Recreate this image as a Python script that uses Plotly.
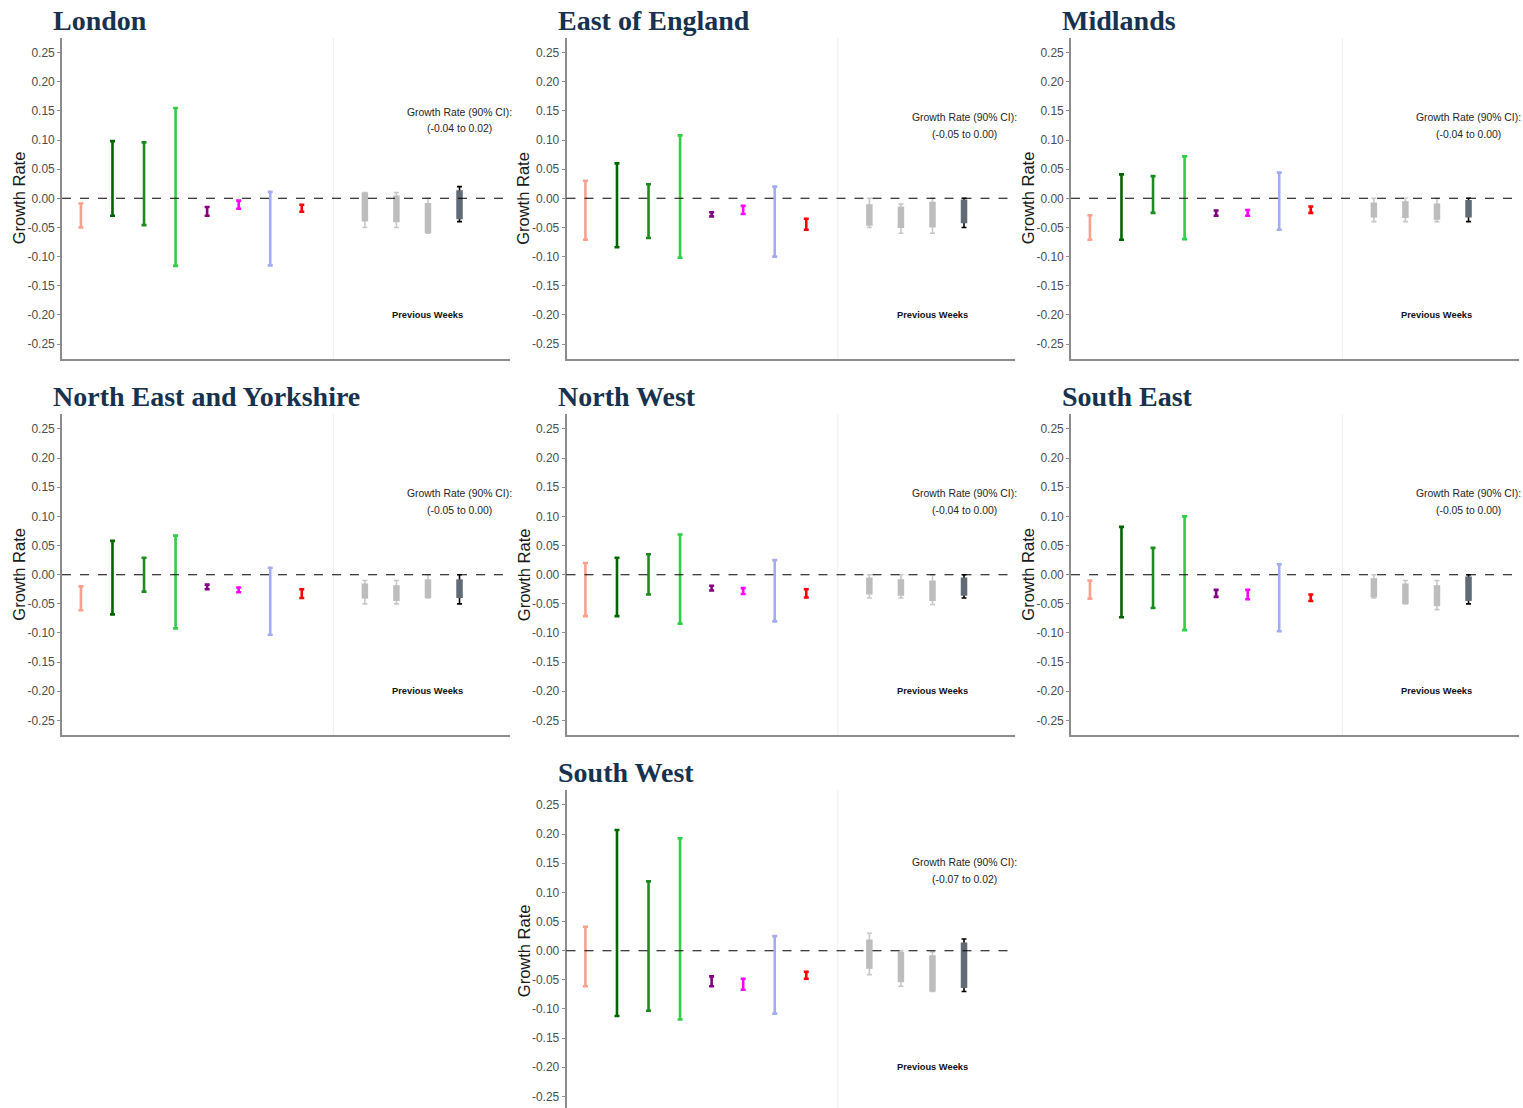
import plotly.graph_objects as go

# ---------------- data ----------------
REGIONS = ["London", "East of England", "Midlands", "North East and Yorkshire",
           "North West", "South East", "South West"]

# 8 model estimates (90% CI lower / upper) per region
MODEL_LO = [
    [-0.050, -0.030, -0.046, -0.116, -0.030, -0.018, -0.115, -0.023],
    [-0.071, -0.084, -0.068, -0.102, -0.031, -0.027, -0.100, -0.054],
    [-0.071, -0.071, -0.025, -0.070, -0.030, -0.030, -0.054, -0.025],
    [-0.061, -0.068, -0.029, -0.092, -0.025, -0.030, -0.103, -0.040],
    [-0.071, -0.071, -0.034, -0.084, -0.027, -0.033, -0.080, -0.039],
    [-0.041, -0.073, -0.057, -0.095, -0.038, -0.042, -0.097, -0.045],
    [-0.061, -0.112, -0.103, -0.118, -0.061, -0.067, -0.108, -0.048],
]
MODEL_HI = [
    [-0.009, 0.098, 0.096, 0.155, -0.015, -0.004, 0.011, -0.011],
    [0.030, 0.060, 0.024, 0.108, -0.024, -0.013, 0.020, -0.035],
    [-0.029, 0.041, 0.038, 0.072, -0.021, -0.020, 0.044, -0.014],
    [-0.020, 0.058, 0.029, 0.067, -0.017, -0.022, 0.012, -0.025],
    [0.020, 0.029, 0.035, 0.069, -0.019, -0.023, 0.025, -0.025],
    [-0.010, 0.082, 0.046, 0.100, -0.026, -0.026, 0.018, -0.034],
    [0.041, 0.207, 0.119, 0.193, -0.044, -0.048, 0.025, -0.036],
]

# previous 4 weeks: whisker (90% CI) and box (inner interval)
WEEK_WHISK_LO = [
    [-0.050, -0.050, -0.060, -0.040],
    [-0.050, -0.060, -0.060, -0.050],
    [-0.040, -0.040, -0.040, -0.040],
    [-0.050, -0.050, -0.040, -0.050],
    [-0.040, -0.040, -0.051, -0.040],
    [-0.040, -0.050, -0.060, -0.050],
    [-0.041, -0.061, -0.070, -0.070],
]
WEEK_BOX_LO = [
    [-0.040, -0.041, -0.060, -0.036],
    [-0.047, -0.051, -0.050, -0.043],
    [-0.033, -0.034, -0.037, -0.033],
    [-0.041, -0.045, -0.040, -0.040],
    [-0.034, -0.036, -0.045, -0.036],
    [-0.039, -0.050, -0.054, -0.045],
    [-0.031, -0.054, -0.070, -0.064],
]
WEEK_BOX_HI = [
    [0.010, 0.005, -0.008, 0.014],
    [-0.010, -0.014, -0.006, -0.002],
    [-0.007, -0.005, -0.009, -0.003],
    [-0.015, -0.018, -0.008, -0.008],
    [-0.005, -0.008, -0.010, -0.005],
    [-0.006, -0.015, -0.018, -0.003],
    [0.019, -0.002, -0.008, 0.014],
]
WEEK_WHISK_HI = [
    [0.010, 0.010, 0.000, 0.020],
    [0.000, -0.010, 0.000, 0.000],
    [0.000, 0.000, 0.000, 0.000],
    [-0.010, -0.010, 0.000, 0.000],
    [0.000, 0.000, 0.000, 0.000],
    [0.000, -0.010, -0.010, 0.000],
    [0.030, 0.000, -0.002, 0.020],
]

CI_LABELS = ["(-0.04 to 0.02)", "(-0.05 to 0.00)", "(-0.04 to 0.00)", "(-0.05 to 0.00)",
             "(-0.04 to 0.00)", "(-0.05 to 0.00)", "(-0.07 to 0.02)"]

MODEL_X = [0, 1, 2, 3, 4, 5, 6, 7]
WEEK_X = [9, 10, 11, 12]
TICK_VALUES = [-0.25, -0.20, -0.15, -0.10, -0.05, 0.00, 0.05, 0.10, 0.15, 0.20, 0.25]
TICK_LABELS = ["-0.25", "-0.20", "-0.15", "-0.10", "-0.05", "0.00", "0.05", "0.10", "0.15", "0.20", "0.25"]

# ---------------- styles / layout ----------------
MODEL_COLORS = ["#F9A08F", "#006400", "#1E8B22", "#32CD44", "#800080", "#FF00FF", "#A2ACF4", "#FF0000"]
WEEK_BOX_COLORS = ["#BDBDBD", "#BDBDBD", "#BDBDBD", "#606B76"]
WEEK_WHISK_COLORS = ["#C8C8C8", "#C8C8C8", "#C8C8C8", "#000000"]
TITLE_COLOR = "#17324F"

W, H = 1523, 1108
PANEL_POS = [(0, 0), (0, 1), (0, 2), (1, 0), (1, 1), (1, 2), (2, 1)]
COL_LEFT = [62, 566.5, 1071]        # px
COL_W = 448
ROW_TOP = [38, 414.4, 790.4]
ROW_H = 320.6
ANNOT_Y = [0.148, 0.139, 0.139, 0.139, 0.139, 0.139, 0.151]
YR = [-0.275, 0.275]
XR = [-0.6, 13.6]

fig = go.Figure()
annotations = []
shapes = []

for k, region in enumerate(REGIONS):
    r, c = PANEL_POS[k]
    sfx = "" if k == 0 else str(k + 1)
    xref, yref = "x" + sfx, "y" + sfx

    left = COL_LEFT[c]
    right = left + COL_W
    xrange = list(XR)
    if right > W:
        xrange[1] = XR[0] + (W - left) / COL_W * (XR[1] - XR[0])
        right = W
    x0, x1 = left / W, right / W

    top = ROW_TOP[r]
    bot = top + ROW_H
    yrange = list(YR)
    if bot > H:
        yrange[0] = YR[1] - (H - top) / ROW_H * (YR[1] - YR[0])
        bot = H
    y1 = 1 - top / H
    y0 = 1 - bot / H

    # model error bars
    for i in range(8):
        lo, hi = MODEL_LO[k][i], MODEL_HI[k][i]
        fig.add_trace(go.Scatter(
            x=[MODEL_X[i]], y=[(lo + hi) / 2], mode="markers",
            marker=dict(size=1, opacity=0),
            error_y=dict(type="data", symmetric=True, array=[(hi - lo) / 2],
                         color=MODEL_COLORS[i], thickness=2.6, width=2.5),
            xaxis=xref, yaxis=yref, hoverinfo="skip"))

    # previous weeks: whiskers then boxes
    for j in range(4):
        wlo, whi = WEEK_WHISK_LO[k][j], WEEK_WHISK_HI[k][j]
        blo, bhi = WEEK_BOX_LO[k][j], WEEK_BOX_HI[k][j]
        fig.add_trace(go.Scatter(
            x=[WEEK_X[j]], y=[(wlo + whi) / 2], mode="markers",
            marker=dict(size=1, opacity=0),
            error_y=dict(type="data", symmetric=True, array=[(whi - wlo) / 2],
                         color=WEEK_WHISK_COLORS[j], thickness=1.6, width=2.5),
            xaxis=xref, yaxis=yref, hoverinfo="skip"))
        fig.add_trace(go.Scatter(
            x=[WEEK_X[j]], y=[(blo + bhi) / 2], mode="markers",
            marker=dict(size=1, opacity=0),
            error_y=dict(type="data", symmetric=True, array=[(bhi - blo) / 2],
                         color=WEEK_BOX_COLORS[j], thickness=6.5, width=0),
            xaxis=xref, yaxis=yref, hoverinfo="skip"))

    axis_line = dict(showline=True, linecolor="#8C8C8C", linewidth=1.6)
    fig.update_layout(**{
        "xaxis" + sfx: dict(domain=[x0, x1], range=xrange, anchor=yref,
                            showgrid=False, zeroline=False, showticklabels=False,
                            ticks="", **(axis_line if r < 2 else dict(showline=False))),
        "yaxis" + sfx: dict(domain=[y0, y1], range=yrange, anchor=xref,
                            tickvals=TICK_VALUES, ticktext=TICK_LABELS,
                            ticks="outside", ticklen=3, tickcolor="#8C8C8C", tickwidth=1,
                            tickfont=dict(family="Liberation Sans, Arial", size=12, color="#4D4D4D"),
                            showgrid=False, zeroline=False, **axis_line),
    })

    # zero dashed line & divider
    shapes.append(dict(type="line", xref=xref + " domain", yref=yref, x0=0, x1=1, y0=0, y1=0,
                       line=dict(color="black", width=1.1, dash="dash")))
    shapes.append(dict(type="line", xref=xref, yref=yref + " domain", x0=8, x1=8, y0=0, y1=1,
                       line=dict(color="#EDEDED", width=1), layer="below"))

    # y-axis title
    annotations.append(dict(text="Growth Rate", xref="paper", yref=yref,
                            x=(COL_LEFT[c] - 43) / W, y=0, textangle=-90,
                            xanchor="center", yanchor="middle", showarrow=False,
                            font=dict(family="Liberation Sans, Arial", size=16.5, color="#1A1A1A")))
    # panel title
    annotations.append(dict(text="<b>" + region + "</b>", xref="paper", yref="paper",
                            x=(COL_LEFT[c] - 11) / W, y=1 - (ROW_TOP[r] - 18) / H,
                            xanchor="left", yanchor="middle", showarrow=False,
                            font=dict(family="Liberation Serif, serif", size=28, color=TITLE_COLOR)))
    # growth-rate annotation
    annotations.append(dict(text="Growth Rate (90% CI):", xref=xref, yref=yref, x=12, y=ANNOT_Y[k],
                            showarrow=False, xanchor="center", yanchor="middle",
                            font=dict(family="Liberation Sans, Arial", size=10.4, color="#262626")))
    annotations.append(dict(text=CI_LABELS[k], xref=xref, yref=yref, x=12, y=ANNOT_Y[k] - 0.029,
                            showarrow=False, xanchor="center", yanchor="middle",
                            font=dict(family="Liberation Sans, Arial", size=10.4, color="#262626")))
    annotations.append(dict(text="<b>Previous Weeks</b>", xref=xref, yref=yref, x=11, y=-0.20,
                            showarrow=False, xanchor="center", yanchor="middle",
                            font=dict(family="Liberation Sans, Arial", size=9.3, color="#111111")))

fig.update_layout(width=W, height=H, margin=dict(l=0, r=0, t=0, b=0),
                  paper_bgcolor="white", plot_bgcolor="white", showlegend=False,
                  annotations=annotations, shapes=shapes)

fig.write_html("out.html", config={"displayModeBar": False},
               post_script="document.body.style.margin='0';")
